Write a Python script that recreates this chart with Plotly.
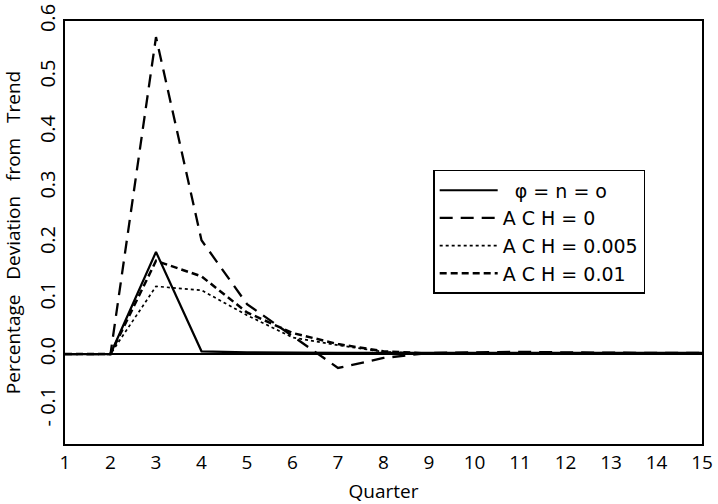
import plotly.graph_objects as go

quarters = list(range(1, 16))
phi_n0 = [0, 0, 0.184, 0.005, 0.003, 0.002, 0.002, 0.002, 0.002, 0.002, 0.002, 0.002, 0.002, 0.002, 0.002]
ach_0 = [0, 0, 0.571, 0.205, 0.09, 0.032, -0.025, -0.007, 0.002, 0.003, 0.004, 0.003, 0.002, 0.002, 0.002]
ach_005 = [0, 0, 0.122, 0.115, 0.07, 0.03, 0.016, 0.004, 0.001, 0.001, 0.001, 0.001, 0.001, 0.001, 0.001]
ach_01 = [0, 0, 0.168, 0.14, 0.075, 0.038, 0.018, 0.005, 0.001, 0.001, 0.001, 0.001, 0.001, 0.001, 0.001]

names = ["\u00a0\u00a0φ = n = o", "A C H = 0", "A C H = 0.005", "A C H = 0.01"]
ytick_vals = [-0.1, 0, 0.1, 0.2, 0.3, 0.4, 0.5, 0.6]
ytick_text = ["- 0.1", "0.0", "0.1", "0.2", "0.3", "0.4", "0.5", "0.6"]

FONT = "Open Sans"
fig = go.Figure()
fig.add_trace(go.Scatter(x=quarters, y=phi_n0, mode="lines", name=names[0],
                         line=dict(color="black", width=2.2, dash="solid")))
fig.add_trace(go.Scatter(x=quarters, y=ach_0, mode="lines", name=names[1],
                         line=dict(color="black", width=2.3, dash="13px,8px")))
fig.add_trace(go.Scatter(x=quarters, y=ach_005, mode="lines", name=names[2],
                         line=dict(color="black", width=1.7, dash="dot")))
fig.add_trace(go.Scatter(x=quarters, y=ach_01, mode="lines", name=names[3],
                         line=dict(color="black", width=2.5, dash="7px,4px")))

fig.update_layout(
    width=718, height=504,
    margin=dict(l=65, r=16, t=21, b=60),
    paper_bgcolor="white", plot_bgcolor="white",
    font=dict(family=FONT, size=18, color="black"),
    showlegend=True,
    legend=dict(x=0.578, y=0.648, xanchor="left", yanchor="top",
                bordercolor="black", borderwidth=1.5, bgcolor="white",
                font=dict(family="DejaVu Sans", size=19), tracegroupgap=0,
                itemwidth=58),
    xaxis=dict(range=[1, 15], tickvals=quarters, ticks="", showgrid=False,
               zeroline=False, showline=True, linecolor="black", linewidth=1.5,
               mirror=True, tickfont=dict(size=19), automargin=False,
               title=dict(text="Quarter", font=dict(size=19))),
    yaxis=dict(range=[-0.162, 0.6], tickvals=ytick_vals, ticktext=ytick_text,
               tickangle=-90, ticks="", showgrid=False, automargin=False,
               zeroline=True, zerolinecolor="black", zerolinewidth=1.5,
               showline=True, linecolor="black", linewidth=1.5, mirror=True,
               tickfont=dict(size=20),
               title=dict(text="Percentage\u00a0\u00a0 Deviation\u00a0\u00a0 from\u00a0\u00a0 Trend",
                          font=dict(size=19))),
)

fig.write_html("out.html")
